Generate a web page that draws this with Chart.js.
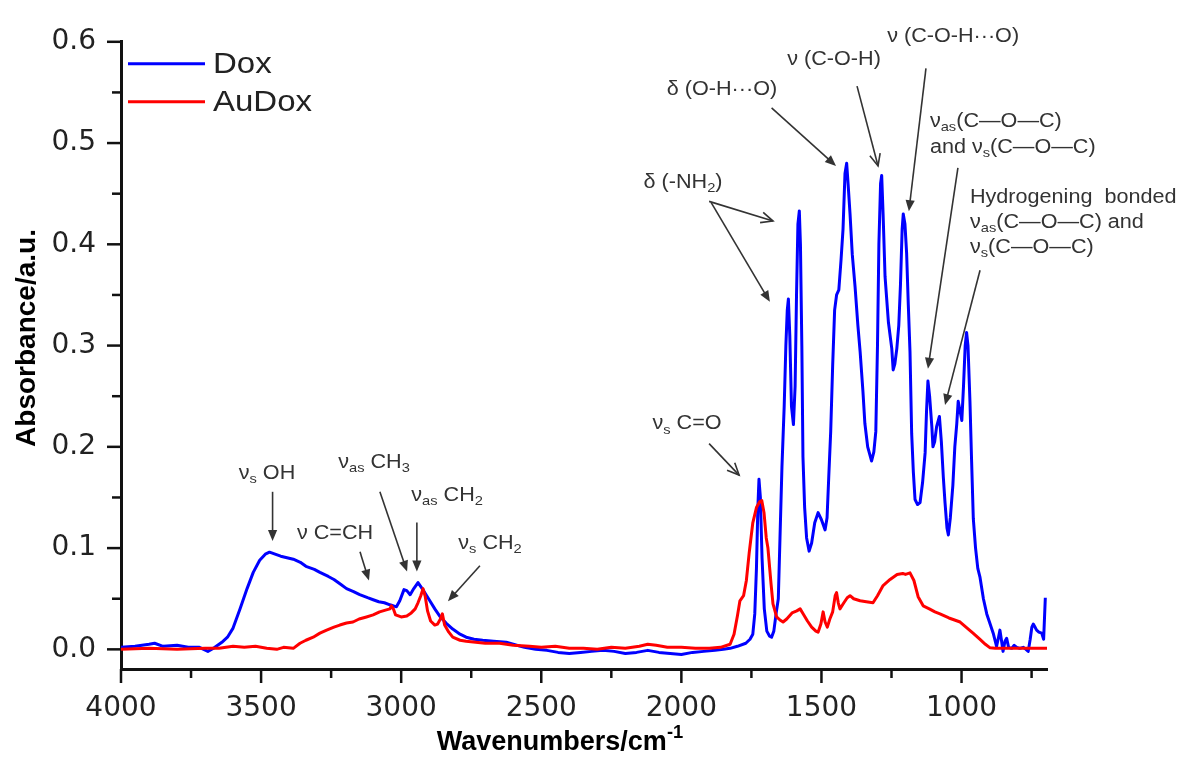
<!DOCTYPE html>
<html>
<head>
<meta charset="utf-8">
<script src="https://cdn.jsdelivr.net/npm/chart.js@4.4.1/dist/chart.umd.min.js"></script>
<style>
html,body{margin:0;padding:0;background:#fff;}
#wrap{width:1178px;height:765px;}
</style>
</head>
<body>
<div id="wrap"><canvas id="c" width="1178" height="765"></canvas></div>
<script>
// ---------- data ----------
const doxWavenumber = [4000,3950,3900,3880,3850,3800,3760,3720,3690,3665,3640,3620,3600,3575,3550,3528,3505,3485,3470,3450,3430,3400,3385,3360,3340,3310,3290,3260,3240,3215,3195,3170,3148,3120,3100,3080,3060,3040,3017,3005,2990,2980,2968,2955,2940,2925,2900,2880,2863,2840,2816,2790,2768,2740,2709,2670,2625,2600,2560,2520,2480,2440,2400,2360,2320,2280,2240,2200,2160,2120,2080,2040,2000,1960,1920,1880,1850,1826,1800,1770,1755,1745,1738,1732,1727,1723,1718,1712,1704,1695,1685,1678,1670,1662,1654,1648,1641,1633,1627,1622,1618,1613,1607,1600,1594,1589,1584,1579,1575,1570,1566,1560,1553,1544,1535,1524,1512,1500,1487,1480,1474,1467,1460,1453,1446,1438,1430,1423,1416,1410,1405,1398,1390,1380,1370,1362,1352,1345,1335,1321,1313,1306,1300,1295,1289,1285,1280,1273,1261,1249,1244,1238,1231,1224,1218,1212,1208,1202,1196,1190,1184,1178,1172,1166,1157,1148,1139,1130,1125,1120,1114,1106,1102,1096,1089,1079,1072,1065,1059,1052,1047,1040,1031,1024,1017,1012,1005,999,993,987,982,977,970,964,958,950,942,934,922,910,898,887,875,868,863,857,852,845,839,832,821,812,803,792,780,770,762,755,749,744,738,732,724,714,707,701];
const doxAbsorbance = [0.002,0.003,0.005,0.006,0.003,0.004,0.002,0.002,-0.002,0.002,0.007,0.012,0.021,0.040,0.060,0.076,0.088,0.094,0.096,0.094,0.092,0.090,0.089,0.086,0.082,0.079,0.076,0.072,0.069,0.064,0.060,0.057,0.054,0.051,0.049,0.047,0.046,0.044,0.042,0.048,0.059,0.058,0.054,0.060,0.066,0.060,0.049,0.040,0.033,0.026,0.020,0.015,0.012,0.010,0.009,0.008,0.007,0.005,0.002,0.000,-0.001,-0.003,-0.004,-0.003,-0.002,-0.001,-0.002,-0.004,-0.003,-0.001,-0.003,-0.004,-0.005,-0.003,-0.002,-0.001,0.000,0.001,0.003,0.006,0.010,0.015,0.035,0.080,0.140,0.168,0.150,0.090,0.040,0.018,0.013,0.012,0.018,0.035,0.050,0.110,0.180,0.240,0.300,0.335,0.346,0.310,0.240,0.222,0.260,0.350,0.420,0.433,0.400,0.300,0.190,0.140,0.110,0.097,0.105,0.125,0.135,0.128,0.118,0.130,0.170,0.215,0.280,0.335,0.350,0.355,0.385,0.415,0.470,0.480,0.460,0.430,0.390,0.358,0.320,0.294,0.255,0.223,0.200,0.186,0.195,0.215,0.300,0.400,0.460,0.468,0.430,0.368,0.323,0.297,0.276,0.282,0.297,0.320,0.360,0.415,0.430,0.420,0.391,0.340,0.294,0.213,0.175,0.148,0.143,0.145,0.165,0.194,0.235,0.265,0.250,0.220,0.200,0.205,0.220,0.230,0.205,0.170,0.145,0.120,0.113,0.130,0.162,0.200,0.223,0.245,0.235,0.226,0.260,0.300,0.313,0.300,0.245,0.185,0.129,0.100,0.080,0.071,0.050,0.035,0.025,0.016,0.003,0.012,0.019,0.008,-0.002,0.008,0.011,0.002,0.001,0.004,0.002,0.001,0.002,0.000,-0.002,0.010,0.022,0.025,0.022,0.019,0.017,0.016,0.010,0.051];

const audoxWavenumber = [4000,3900,3800,3700,3650,3600,3560,3520,3480,3444,3420,3385,3361,3340,3314,3290,3266,3240,3219,3195,3172,3150,3124,3100,3077,3053,3040,3035,3028,3020,3000,2980,2964,2950,2940,2930,2922,2914,2906,2895,2880,2870,2860,2853,2845,2830,2816,2790,2768,2700,2649,2600,2542,2500,2450,2400,2350,2300,2250,2200,2150,2120,2090,2050,2000,1950,1900,1860,1826,1812,1800,1791,1778,1768,1758,1745,1732,1720,1713,1705,1697,1691,1680,1673,1660,1648,1637,1624,1605,1588,1576,1565,1550,1535,1520,1512,1502,1494,1487,1479,1470,1460,1451,1446,1440,1434,1420,1408,1398,1385,1362,1340,1316,1300,1280,1255,1230,1210,1200,1184,1170,1155,1137,1115,1095,1077,1045,1005,980,959,935,915,898,880,850,800,750,695];
const audoxAbsorbance = [0.000,0.001,0.000,0.001,0.001,0.003,0.002,0.003,0.001,0.000,0.002,0.001,0.006,0.009,0.012,0.016,0.019,0.022,0.024,0.026,0.027,0.030,0.032,0.034,0.037,0.039,0.040,0.043,0.040,0.034,0.032,0.033,0.036,0.040,0.046,0.053,0.060,0.052,0.038,0.028,0.024,0.025,0.030,0.035,0.024,0.017,0.012,0.009,0.008,0.006,0.006,0.004,0.003,0.002,0.003,0.001,0.001,0.000,0.002,0.001,0.003,0.005,0.004,0.002,0.002,0.001,0.001,0.002,0.005,0.015,0.033,0.048,0.053,0.068,0.095,0.125,0.140,0.146,0.147,0.135,0.110,0.100,0.065,0.045,0.032,0.029,0.027,0.030,0.036,0.038,0.040,0.035,0.028,0.022,0.018,0.017,0.025,0.037,0.027,0.022,0.030,0.037,0.053,0.056,0.046,0.040,0.046,0.051,0.053,0.050,0.048,0.047,0.046,0.053,0.063,0.069,0.074,0.075,0.074,0.0755,0.068,0.052,0.043,0.040,0.037,0.035,0.031,0.027,0.021,0.016,0.010,0.005,0.0015,0.001,0.001,0.001,0.001,0.001];

const seriesNames = ['Dox', 'AuDox'];
const xTickValues = [4000, 3500, 3000, 2500, 2000, 1500, 1000];
const xMinorTickValues = [3750, 3250, 2750, 2250, 1750, 1250, 750];
const yTickValues = [0.0, 0.1, 0.2, 0.3, 0.4, 0.5, 0.6];
const yMinorTickValues = [0.05, 0.15, 0.25, 0.35, 0.45, 0.55];
const xAxisTitle = 'Wavenumbers/cm';
const yAxisTitle = 'Absorbance/a.u.';

// annotation labels (anchors in data units: wavenumber, absorbance)
const annotations = [
  {lines:[[['ν'],['s','sub'],[' OH']]], at:[3479,0.174], align:'center', arrows:[{from:[3459,0.1556], to:[3459,0.107], head:'fill'}]},
  {lines:[[['ν C=CH']]], at:[3236,0.1147], align:'center', arrows:[{from:[3147,0.0963], to:[3115,0.068], head:'fill'}]},
  {lines:[[['ν'],['as','sub'],[' CH'],['3','sub']]], at:[3097,0.1847], align:'center', arrows:[{from:[3076,0.1556], to:[2979,0.0768], head:'fill'}]},
  {lines:[[['ν'],['as','sub'],[' CH'],['2','sub']]], at:[2836,0.1517], align:'center', arrows:[{from:[2944,0.1254], to:[2944,0.0768], head:'fill'}]},
  {lines:[[['ν'],['s','sub'],[' CH'],['2','sub']]], at:[2683,0.105], align:'center', arrows:[{from:[2719,0.0826], to:[2833,0.0476], head:'fill'}]},
  {lines:[[['ν'],['s','sub'],[' C=O']]], at:[1980,0.2227], align:'center', arrows:[{from:[1901,0.2032], to:[1794,0.1721], head:'open'}]},
  {lines:[[['δ (-NH'],['2','sub'],[')']]], at:[1994,0.4609], align:'center', arrows:[{from:[1901,0.4424], to:[1673,0.4230], head:'open'},{from:[1894,0.4415], to:[1684,0.3432], head:'fill'}]},
  {lines:[[['δ (O-H\u00B7\u00B7\u00B7O)']]], at:[1855,0.5533], align:'center', arrows:[{from:[1678,0.5348], to:[1448,0.4774], head:'fill'}]},
  {lines:[[['ν (C-O-H)']]], at:[1455,0.5825], align:'center', arrows:[{from:[1373,0.5562], to:[1298,0.4774], head:'open'}]},
  {lines:[[['ν (C-O-H\u00B7\u00B7\u00B7O)']]], at:[1030,0.6048], align:'center', arrows:[{from:[1127,0.5737], to:[1188,0.4327], head:'fill'}]},
  {lines:[[['ν'],['as','sub'],['(C\u2014O\u2014C)']],[['and ν'],['s','sub'],['(C\u2014O\u2014C)']]], at:[1113,0.5212], lineStep:0.0253, align:'left', arrows:[{from:[1013,0.4755], to:[1120,0.2771], head:'fill'}]},
  {lines:[[['Hydrogening  bonded']],[['ν'],['as','sub'],['(C\u2014O\u2014C) and']],[['ν'],['s','sub'],['(C\u2014O\u2014C)']]], at:[970,0.4463], lineStep:0.0248, align:'left', arrows:[{from:[934,0.3744], to:[1059,0.2412], head:'fill'}]}
];

const seriesColors = ['#0000ff', '#ff0000'];

// ---------- helpers ----------
function drawRich(ctx, parts, x, y, o) {
  const size = o.size, fam = o.family || "'Liberation Sans', Arial, sans-serif";
  const weight = o.weight || 'normal', hs = o.hscale || 1;
  const items = parts.map(p => {
    const mode = p[1] || '';
    const s = mode ? size * 0.68 : size;
    ctx.font = weight + ' ' + s + 'px ' + fam;
    return {t: p[0], mode, s, w: ctx.measureText(p[0]).width};
  });
  const W = items.reduce((a, b) => a + b.w, 0);
  let x0 = x;
  if (o.align === 'center') x0 = x - W * hs / 2;
  else if (o.align === 'right') x0 = x - W * hs;
  ctx.save();
  ctx.translate(x0, y);
  ctx.scale(hs, 1);
  ctx.fillStyle = o.color || '#333';
  ctx.textBaseline = 'middle';
  ctx.textAlign = 'left';
  let cx = 0;
  items.forEach(it => {
    ctx.font = weight + ' ' + it.s + 'px ' + fam;
    let dy = 0;
    if (it.mode === 'sub') dy = size * 0.3;
    if (it.mode === 'sup') dy = -size * 0.36;
    ctx.fillText(it.t, cx, dy);
    cx += it.w;
  });
  ctx.restore();
}

function drawArrow(ctx, x1, y1, x2, y2, head) {
  const ang = Math.atan2(y2 - y1, x2 - x1);
  ctx.save();
  ctx.strokeStyle = '#333';
  ctx.fillStyle = '#333';
  ctx.lineWidth = 1.6;
  const L = 11, hw = 4.6;
  ctx.beginPath();
  ctx.moveTo(x1, y1);
  if (head === 'fill') ctx.lineTo(x2 - Math.cos(ang) * (L - 2), y2 - Math.sin(ang) * (L - 2));
  else ctx.lineTo(x2, y2);
  ctx.stroke();
  if (head === 'fill') {
    ctx.beginPath();
    ctx.moveTo(x2, y2);
    ctx.lineTo(x2 - Math.cos(ang) * L - Math.sin(ang) * hw, y2 - Math.sin(ang) * L + Math.cos(ang) * hw);
    ctx.lineTo(x2 - Math.cos(ang) * L + Math.sin(ang) * hw, y2 - Math.sin(ang) * L - Math.cos(ang) * hw);
    ctx.closePath();
    ctx.fill();
  } else {
    const a = 0.42, l = 13;
    ctx.beginPath();
    ctx.moveTo(x2 - Math.cos(ang - a) * l, y2 - Math.sin(ang - a) * l);
    ctx.lineTo(x2, y2);
    ctx.lineTo(x2 - Math.cos(ang + a) * l, y2 - Math.sin(ang + a) * l);
    ctx.stroke();
  }
  ctx.restore();
}

const decorPlugin = {
  id: 'decor',
  afterDraw(chart) {
    const ctx = chart.ctx, xs = chart.scales.x, ys = chart.scales.y, ca = chart.chartArea;
    // tick marks
    ctx.save();
    ctx.strokeStyle = '#111';
    ctx.lineWidth = 2.5;
    const yb = ca.bottom, xl = ca.left;
    xTickValues.forEach(v => { const p = xs.getPixelForValue(v); ctx.beginPath(); ctx.moveTo(p, yb); ctx.lineTo(p, yb + 14); ctx.stroke(); });
    xMinorTickValues.forEach(v => { const p = xs.getPixelForValue(v); ctx.beginPath(); ctx.moveTo(p, yb); ctx.lineTo(p, yb + 9); ctx.stroke(); });
    yTickValues.forEach(v => { const p = ys.getPixelForValue(v); ctx.beginPath(); ctx.moveTo(xl, p); ctx.lineTo(xl - 14, p); ctx.stroke(); });
    yMinorTickValues.forEach(v => { const p = ys.getPixelForValue(v); ctx.beginPath(); ctx.moveTo(xl, p); ctx.lineTo(xl - 9, p); ctx.stroke(); });
    ctx.restore();

    // legend
    chart.data.datasets.forEach((ds, i) => {
      const ly = ca.top + 22 + i * 38;
      ctx.save();
      ctx.strokeStyle = ds.borderColor;
      ctx.lineWidth = 3;
      ctx.beginPath(); ctx.moveTo(ca.left + 7, ly); ctx.lineTo(ca.left + 84, ly); ctx.stroke();
      ctx.restore();
      drawRich(ctx, [[ds.label]], ca.left + 92, ly + 1, {size: 30, hscale: 1.1, color: '#222', align: 'left'});
    });

    // axis titles
    drawRich(ctx, [[xAxisTitle], ['-1', 'sup']], 560, 743, {size: 27, weight: 'bold', color: '#000', align: 'center'});
    ctx.save();
    ctx.translate(27, 338);
    ctx.rotate(-Math.PI / 2);
    drawRich(ctx, [[yAxisTitle]], 0, 0, {size: 28, weight: 'bold', color: '#000', align: 'center'});
    ctx.restore();

    // annotations
    annotations.forEach(a => {
      a.lines.forEach((ln, k) => {
        const px = xs.getPixelForValue(a.at[0]);
        const py = ys.getPixelForValue(a.at[1] - k * (a.lineStep || 0));
        drawRich(ctx, ln, px, py, {size: 20, hscale: 1.08, color: '#333', align: a.align});
      });
      a.arrows.forEach(ar => {
        drawArrow(ctx, xs.getPixelForValue(ar.from[0]), ys.getPixelForValue(ar.from[1]),
                  xs.getPixelForValue(ar.to[0]), ys.getPixelForValue(ar.to[1]), ar.head);
      });
    });
  }
};

const doxPoints = doxWavenumber.map((x, i) => ({x, y: doxAbsorbance[i]}));
const audoxPoints = audoxWavenumber.map((x, i) => ({x, y: audoxAbsorbance[i]}));

new Chart(document.getElementById('c'), {
  type: 'line',
  data: {
    datasets: [
      {label: seriesNames[0], data: doxPoints, borderColor: seriesColors[0], borderWidth: 3, pointRadius: 0, tension: 0, fill: false, order: 1, borderJoinStyle: 'round'},
      {label: seriesNames[1], data: audoxPoints, borderColor: seriesColors[1], borderWidth: 3, pointRadius: 0, tension: 0, fill: false, order: 0, borderJoinStyle: 'round'}
    ]
  },
  options: {
    responsive: false,
    animation: false,
    devicePixelRatio: 1,
    layout: {padding: {top: 32, right: 131, left: 0, bottom: 0}},
    plugins: {legend: {display: false}, tooltip: {enabled: false}, title: {display: false}},
    scales: {
      x: {
        type: 'linear', reverse: true, min: 695, max: 4000,
        afterFit: s => { s.height = 96; },
        afterBuildTicks: s => { s.ticks = xTickValues.map(v => ({value: v})); },
        grid: {display: false, drawTicks: false, tickLength: 0},
        border: {display: true, color: '#111', width: 3},
        ticks: {font: {family: "'DejaVu Sans', sans-serif", size: 28}, color: '#222', padding: 23, maxRotation: 0, autoSkip: false, callback: v => String(v)}
      },
      y: {
        type: 'linear', min: -0.0194, max: 0.6,
        afterFit: s => { s.width = 121; },
        afterBuildTicks: s => { s.ticks = yTickValues.map(v => ({value: v})); },
        grid: {display: false, drawTicks: false, tickLength: 0},
        border: {display: true, color: '#111', width: 3},
        ticks: {font: {family: "'DejaVu Sans', sans-serif", size: 28}, color: '#222', padding: 25, autoSkip: false, callback: v => Number(v).toFixed(1)}
      }
    }
  },
  plugins: [decorPlugin]
});
</script>
</body>
</html>
